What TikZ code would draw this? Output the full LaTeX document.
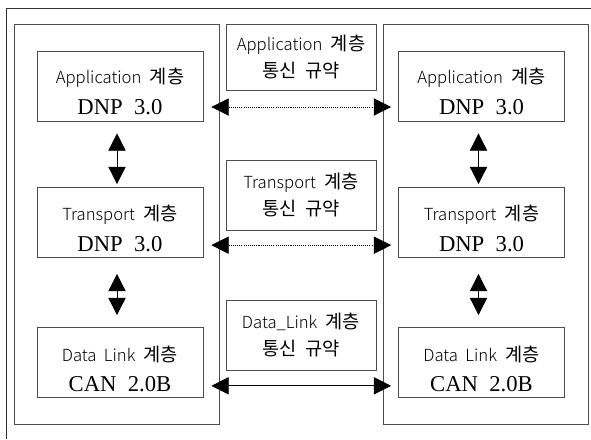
\documentclass[tikz,border=0pt]{standalone}
\usepackage{fontspec}
\setmainfont{Liberation Serif}
\newfontfamily\kr{Noto Sans CJK KR}
\newfontfamily\krlight{Noto Sans CJK KR Light}
\usetikzlibrary{arrows.meta}
\newcommand\lat[1]{{\krlight\fontsize{12.5pt}{14pt}\selectfont #1}}
\begin{document}
\begin{tikzpicture}[x=0.75pt,y=0.75pt,yscale=-1,xscale=1,
  layer/.style={draw=black!70, line width=0.6pt, minimum width=124.5pt, minimum height=52.5pt, inner sep=0pt},
  proto/.style={layer, minimum width=112.5pt, align=center, font=\kr\fontsize{14}{20.5}\selectfont},
  hangul/.style={font=\kr\fontsize{14}{16}\selectfont, inner sep=0pt},
  dnp/.style={font=\fontsize{17}{19}\selectfont, inner sep=0pt},
  dbl/.style={{Triangle[length=13pt,width=13pt]}-{Triangle[length=13pt,width=13pt]}, line width=0.6pt, black},
  dots/.style={dash pattern=on 0.8pt off 0.8pt, line width=0.5pt}]
\useasboundingbox (0,0) rectangle (591,439);

%Frame
\draw [color=black!80, line width=0.7pt] (591,8) -- (6,8) -- (6,439);
%Shape: Rectangle (station A)
\draw [color=black!70, line width=0.6pt] (14,24) rectangle (219,424);
%Shape: Rectangle (station B)
\draw [color=black!70, line width=0.6pt] (383,24) rectangle (588,424);

%station A layers
\node [layer] (lApp) at (120,86) {};
\node [layer] (lTra) at (120,222.5) {};
\node [layer] (lDat) at (120,362.5) {};
\node [hangul] at ([yshift=-6pt]lApp.center) {\lat{Application}\ \ 계층};
\node [dnp] at ([yshift=16pt]lApp.center) {DNP\ \ 3.0};
\node [hangul] at ([yshift=-6pt]lTra.center) {\lat{Transport}\ \ 계층};
\node [dnp] at ([yshift=16pt]lTra.center) {DNP\ \ 3.0};
\node [hangul] at ([yshift=-6pt]lDat.center) {\lat{Data\ \ Link}\ \ 계층};
\node [dnp] at ([yshift=16pt]lDat.center) {CAN\ \ 2.0B};

%station B layers
\node [layer] (rApp) at (481.5,86) {};
\node [layer] (rTra) at (481.5,222.5) {};
\node [layer] (rDat) at (481.5,362.5) {};
\node [hangul] at ([yshift=-6pt]rApp.center) {\lat{Application}\ \ 계층};
\node [dnp] at ([yshift=16pt]rApp.center) {DNP\ \ 3.0};
\node [hangul] at ([yshift=-6pt]rTra.center) {\lat{Transport}\ \ 계층};
\node [dnp] at ([yshift=16pt]rTra.center) {DNP\ \ 3.0};
\node [hangul] at ([yshift=-6pt]rDat.center) {\lat{Data\ \ Link}\ \ 계층};
\node [dnp] at ([yshift=16pt]rDat.center) {CAN\ \ 2.0B};

%protocols
\node [proto, minimum height=49.5pt] (pApp) at (301,57) {\lat{Application}\ \ 계층\\통신\ \ 규약};
\node [proto] (pTra) at (301,195) {\lat{Transport}\ \ 계층\\통신\ \ 규약};
\node [proto] (pDat) at (301,335) {\lat{Data\_Link}\ \ 계층\\통신\ \ 규약};

%Straight Lines (inside stations)
\draw [dbl] ([shift={(-2.25pt,9pt)}]lApp.south) -- ([shift={(-2.25pt,-2.25pt)}]lTra.north);
\draw [dbl] ([shift={(-2.25pt,12pt)}]lTra.south) -- ([shift={(-2.25pt,-9pt)}]lDat.north);
\draw [dbl] ([shift={(-2.25pt,9pt)}]rApp.south) -- ([shift={(-2.25pt,-2.25pt)}]rTra.north);
\draw [dbl] ([shift={(-2.25pt,12pt)}]rTra.south) -- ([shift={(-2.25pt,-9pt)}]rDat.north);

%Straight Lines (peer to peer)
\draw [dbl, dots] ([shift={(6pt,15.75pt)}]lApp.east) -- ([shift={(-5.25pt,15.75pt)}]rApp.west);
\draw [dbl, dots] ([shift={(6pt,17pt)}]lTra.east) -- ([shift={(-5.25pt,17pt)}]rTra.west);
\draw [dbl] ([shift={(6pt,17.5pt)}]lDat.east) -- ([shift={(-5.25pt,17.5pt)}]rDat.west);

\end{tikzpicture}
\end{document}
